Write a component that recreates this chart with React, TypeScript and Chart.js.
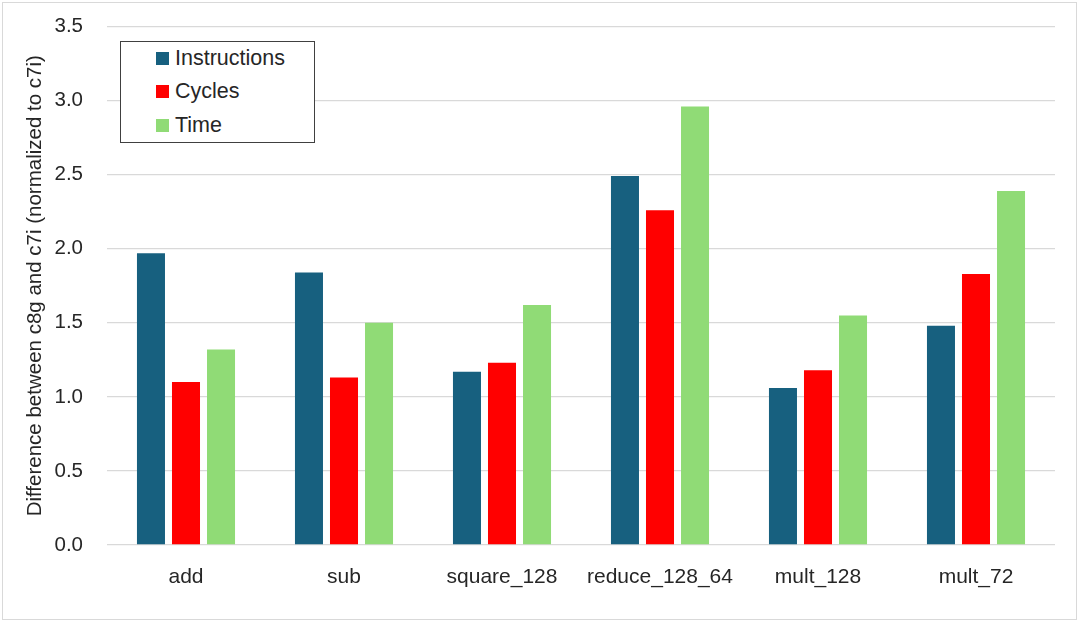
import React, { useEffect, useRef } from "react";
import { Chart, registerables } from "chart.js";

Chart.register(...registerables);

const categories = ["add", "sub", "square_128", "reduce_128_64", "mult_128", "mult_72"];
const instructions = [1.97, 1.84, 1.17, 2.49, 1.06, 1.48];
const cycles = [1.10, 1.13, 1.23, 2.26, 1.18, 1.83];
const time = [1.32, 1.50, 1.62, 2.96, 1.55, 2.39];
const seriesNames = ["Instructions", "Cycles", "Time"];
const seriesColors = ["#17607F", "#FF0000", "#90DB76"];
const yTicks = [0, 0.5, 1.0, 1.5, 2.0, 2.5, 3.0, 3.5];
const yTitle = "Difference between c8g and c7i (normalized to c7i)";

const FONT = "'Liberation Sans', Arial, sans-serif";
const TEXT = "#262626";

export default function App() {
  const ref = useRef<HTMLCanvasElement | null>(null);

  useEffect(() => {
    if (!ref.current) return;
    const values = [instructions, cycles, time];
    const chart = new Chart(ref.current, {
      type: "bar",
      data: {
        labels: categories,
        datasets: seriesNames.map((name, i) => ({
          label: name,
          data: values[i],
          backgroundColor: seriesColors[i],
          borderWidth: 0,
          categoryPercentage: 0.665,
          barPercentage: 0.8,
        })),
      },
      options: {
        animation: false,
        responsive: false,
        devicePixelRatio: 1,
        layout: { padding: { left: 0, right: 25, top: 26.5, bottom: 0 } },
        plugins: {
          legend: { display: false },
          tooltip: { enabled: false },
        },
        scales: {
          x: {
            grid: { display: false, drawTicks: false },
            border: { display: false },
            ticks: { color: TEXT, font: { family: FONT, size: 21 }, padding: 20, maxRotation: 0 },
            afterFit: (s: any) => { s.height = 77; },
          },
          y: {
            min: yTicks[0],
            max: yTicks[yTicks.length - 1],
            afterBuildTicks: (s: any) => { s.ticks = yTicks.map((v) => ({ value: v })); },
            grid: {
              color: "#D9D9D9",
              lineWidth: 1.3,
              drawTicks: true,
              tickLength: 24,
              tickColor: "rgba(0,0,0,0)",
            },
            border: { display: false },
            ticks: {
              color: TEXT,
              font: { family: FONT, size: 20.5 },
              padding: 0,
              callback: (v: any) => Number(v).toFixed(1),
            },
            title: {
              display: true,
              text: yTitle,
              color: TEXT,
              font: { family: FONT, size: 20.5 },
              padding: { top: 23, bottom: 0 },
            },
            afterFit: (s: any) => { s.width = 107; },
          },
        },
      },
    });
    return () => chart.destroy();
  }, []);

  return (
    <div style={{ position: "absolute", left: 0, top: 0, width: 1080, height: 622, background: "#fff", fontFamily: FONT }}>
      <div style={{ position: "absolute", left: 2, top: 2, width: 1073, height: 616, border: "1.5px solid #D9D9D9" }} />
      <canvas ref={ref} width={1080} height={622} style={{ position: "absolute", left: 0, top: 0, width: 1080, height: 622 }} />
      <div
        style={{
          position: "absolute",
          left: 120,
          top: 41,
          width: 193,
          height: 100,
          border: "1.5px solid #404040",
          background: "#fff",
        }}
      >
        {seriesNames.map((name, i) => (
          <div
            key={name}
            style={{
              position: "absolute",
              left: 35,
              top: 3 + i * 33.5,
              height: 26,
              display: "flex",
              alignItems: "center",
              whiteSpace: "nowrap",
            }}
          >
            <span style={{ display: "inline-block", width: 13, height: 13, background: seriesColors[i], marginRight: 6 }} />
            <span style={{ fontSize: 21.5, color: TEXT }}>{name}</span>
          </div>
        ))}
      </div>
    </div>
  );
}
